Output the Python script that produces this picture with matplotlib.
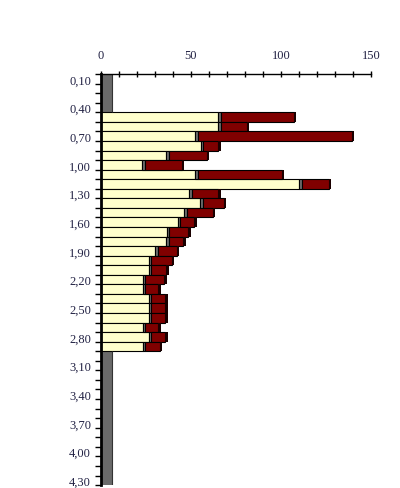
import matplotlib
matplotlib.use("Agg")
import matplotlib.pyplot as plt
import numpy as np

# categories 0,10 ... 4,30
labels = ["0,10", "0,20", "0,30", "0,40", "0,50", "0,60", "0,70", "0,80", "0,90",
          "1,00", "1,10", "1,20", "1,30", "1,40", "1,50", "1,60", "1,70", "1,80",
          "1,90", "2,00", "2,10", "2,20", "2,30", "2,40", "2,50", "2,60", "2,70",
          "2,80", "2,90", "3,00", "3,10", "3,20", "3,30", "3,40", "3,50", "3,60",
          "3,70", "3,80", "3,90", "4,00", "4,10", "4,20", "4,30"]

# series values for 0,50 ... 2,90 (empty elsewhere)
cream_vals = [65.3, 65.3, 52.4, 55.5, 36.3, 22.9, 52.5, 110.2, 49.0, 55.3,
              46.1, 42.7, 36.6, 36.3, 30.0, 26.6, 26.6, 23.3, 23.3, 26.6,
              26.6, 26.6, 23.3, 26.6, 23.3]
grey_vals = [1.5] * 25
red_vals = [41.6, 15.7, 86.9, 9.6, 22.3, 22.0, 47.9, 16.1, 16.1, 12.8,
            15.8, 9.1, 11.8, 9.4, 12.0, 12.6, 9.5, 11.8, 8.5, 9.1,
            9.1, 9.1, 8.5, 9.1, 9.1]
empty_grey = 6.1
first_row = 4

n = len(labels)
cream = np.zeros(n)
grey = np.zeros(n)
red = np.zeros(n)
cream[first_row:first_row + len(cream_vals)] = cream_vals
grey[first_row:first_row + len(grey_vals)] = grey_vals
red[first_row:first_row + len(red_vals)] = red_vals
filled = red > 0
empty = np.where(filled, 0.0, empty_grey)
tail = np.where(filled, 1.3, 0.0)

y = np.arange(n)

fig = plt.figure(figsize=(4.0, 4.89), dpi=100)
ax = fig.add_axes([0.252, 0.006, 0.6755, 0.8405])

# grey column in the empty rows, drawn without row borders
ax.barh(y, empty, height=1.0, color='#6a6a6a', linewidth=0)
ax.vlines(empty_grey, -0.5, first_row - 0.5, color='#333333', linewidth=0.8)
ax.vlines(empty_grey, first_row + len(red_vals) - 0.5, n - 0.5,
          color='#333333', linewidth=0.8)

kw = dict(height=1.0, edgecolor='black', linewidth=0.8)
yf = y[filled]
ax.barh(yf, cream[filled], color='#FFFFCC', **kw)
ax.barh(yf, grey[filled], left=cream[filled], color='#6e6e6e', **kw)
ax.barh(yf, (red - tail)[filled], left=(cream + grey)[filled], color='#800000', **kw)
ax.barh(yf, tail[filled], left=(cream + grey + red - tail)[filled], color='#1a0000',
        height=1.0, linewidth=0)

ax.set_xlim(0, 150)
ax.set_ylim(n - 0.5, -0.5)

ax.xaxis.tick_top()
ax.set_xticks([0, 50, 100, 150])
ax.set_xticks(np.arange(0, 151, 10), minor=True)
ax.tick_params(axis='x', which='both', direction='inout', length=5, width=1,
               pad=7, labelsize=9, labelcolor='#222244')

ax.set_yticks(y[::3])
ax.set_yticklabels(labels[::3], fontsize=9, color='#222244')
ax.set_yticks(np.arange(n + 1) - 0.5, minor=True)
ax.tick_params(axis='y', which='major', length=0, pad=7)
ax.tick_params(axis='y', which='minor', direction='out', length=4, width=1)

for lab in ax.get_xticklabels() + ax.get_yticklabels():
    lab.set_family('Liberation Serif')

ax.spines['right'].set_visible(False)
ax.spines['bottom'].set_visible(False)
ax.spines['left'].set_linewidth(2)
ax.spines['top'].set_linewidth(1)

fig.savefig('out.png', dpi=100)
